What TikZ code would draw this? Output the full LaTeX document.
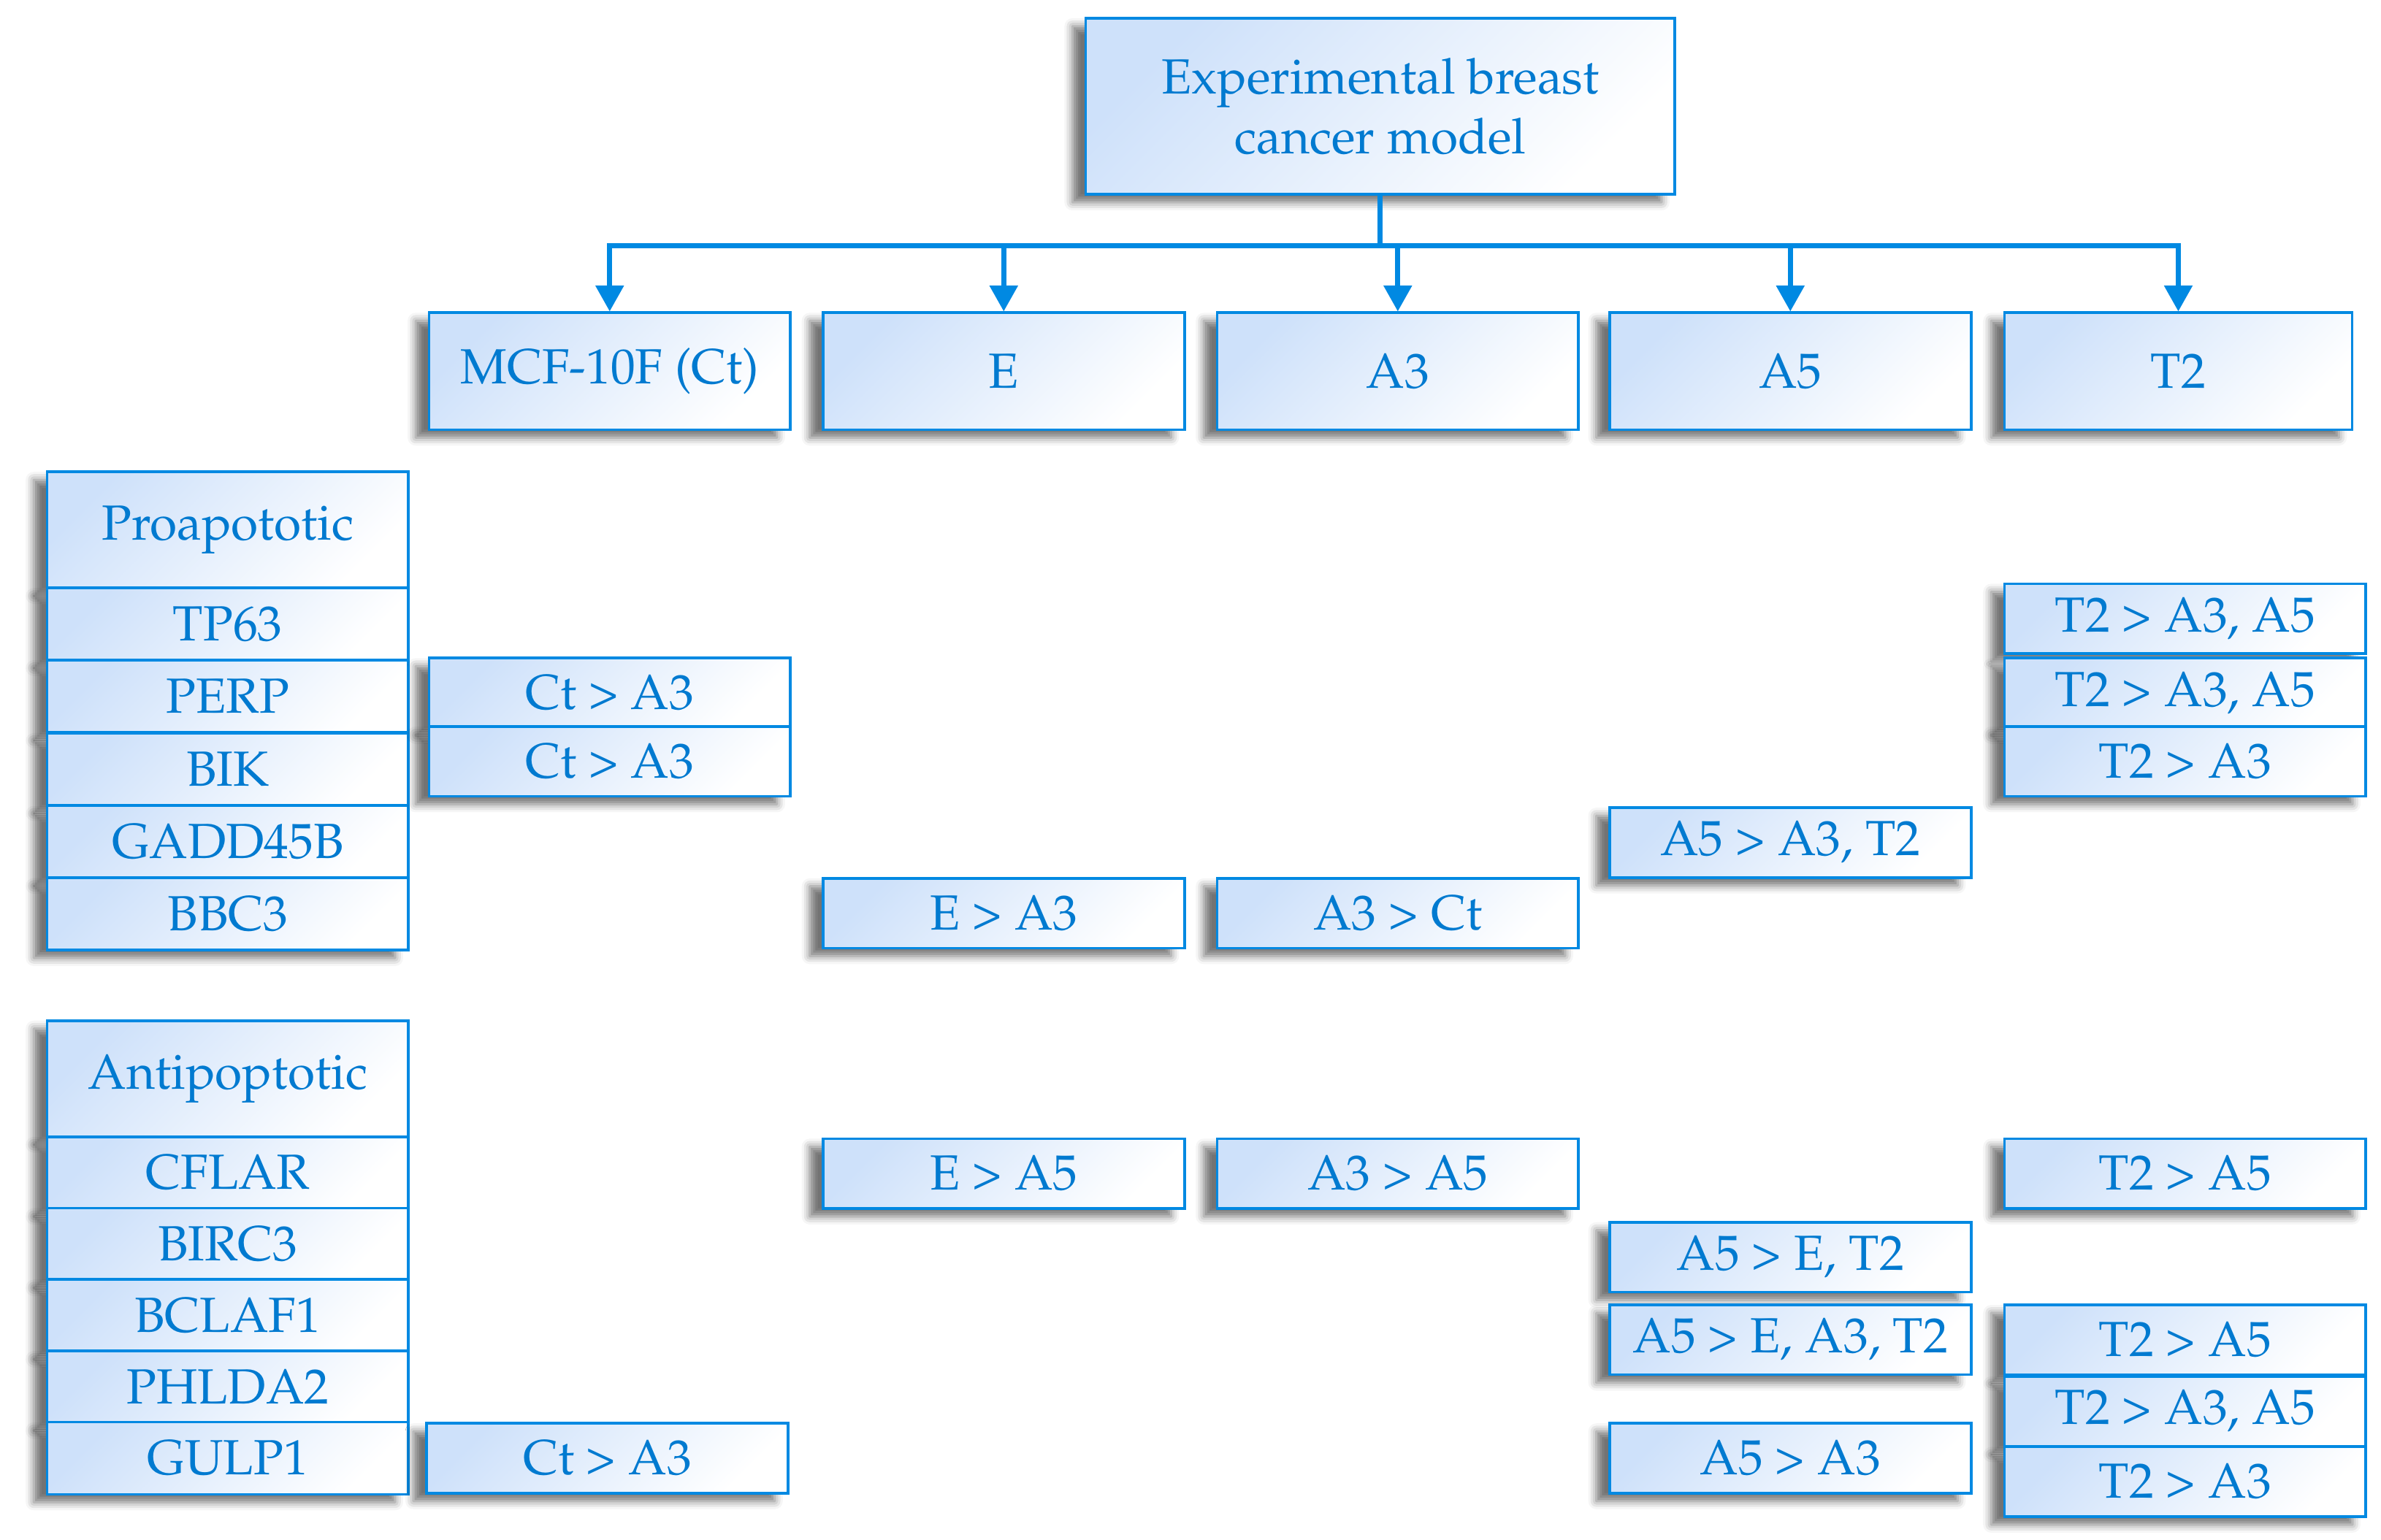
\documentclass[tikz,border=0pt]{standalone}
\usepackage[T1]{fontenc}
\usepackage{mathpazo}
\usepackage{xcolor}
\usepackage{tikz}
\usetikzlibrary{arrows.meta,positioning,shadows.blur}

\definecolor{lineblue}{RGB}{0,137,226}
\definecolor{textblue}{RGB}{0,122,208}
\definecolor{fillblue}{RGB}{206,225,250}

\begin{document}
\begin{tikzpicture}[
    cell/.style={rectangle, draw=lineblue, line width=1pt, top color=fillblue, bottom color=white, shading angle=45, text=textblue, font=\fontsize{18.5}{22.5}\selectfont, align=center, inner sep=0pt, minimum width=4.76cm, blur shadow={shadow xshift=-5pt, shadow yshift=-3pt, shadow opacity=55, shadow blur radius=3pt}},
    model/.style={cell, minimum width=7.76cm, minimum height=2.32cm},
    group/.style={cell, minimum height=1.54cm},
    head/.style={cell, minimum height=1.53cm},
    gene/.style={cell, minimum height=0.95cm},
    cmp/.style={cell, minimum height=0.92cm},
    link/.style={draw=lineblue, line width=1.9pt},
    arr/.style={link, -{Triangle[width=0.36cm,length=0.34cm]}}
]
\useasboundingbox (0,0) rectangle (31.36,-20.28);

% Model and groups
\node[model] (model) at (18.18,-1.40) {Experimental breast\\cancer model};
\node[group] (ct) at (8.03,-4.89) {MCF-10F (Ct)};
\node[group] (e) at (13.22,-4.89) {E};
\node[group] (a3) at (18.41,-4.89) {A3};
\node[group] (a5) at (23.58,-4.89) {A5};
\node[group, minimum width=4.58cm] (t2) at (28.69,-4.89) {T2};

% Proapoptotic genes
\node[head] (pro) at (3.0,-6.98) {Proapototic};
\node[gene] (tp63) at (3.0,-8.22) {TP63};
\node[gene] (perp) at (3.0,-9.17) {PERP};
\node[gene] (bik) at (3.0,-10.13) {BIK};
\node[gene] (gadd) at (3.0,-11.09) {GADD45B};
\node[gene] (bbc3) at (3.0,-12.04) {BBC3};

% Antiapoptotic genes
\node[head] (anti) at (3.0,-14.21) {Antipoptotic};
\node[gene] (cflar) at (3.0,-15.45) {CFLAR};
\node[gene] (birc3) at (3.0,-16.39) {BIRC3};
\node[gene] (bclaf1) at (3.0,-17.33) {BCLAF1};
\node[gene] (phlda2) at (3.0,-18.27) {PHLDA2};
\node[gene] (gulp1) at (3.0,-19.21) {GULP1};

% Comparisons, proapoptotic
\node[cmp] (perp-ct) at (8.03,-9.13) {Ct > A3};
\node[cmp] (bik-ct) at (8.03,-10.03) {Ct > A3};
\node[cmp] (tp63-t2) at (28.78,-8.15) {T2 > A3, A5};
\node[cmp] (perp-t2) at (28.78,-9.13) {T2 > A3, A5};
\node[cmp] (bik-t2) at (28.78,-10.03) {T2 > A3};
\node[cmp] (gadd-a5) at (23.58,-11.10) {A5 > A3, T2};
\node[cmp] (bbc3-e) at (13.22,-12.03) {E > A3};
\node[cmp] (bbc3-a3) at (18.41,-12.03) {A3 > Ct};

% Comparisons, antiapoptotic
\node[cmp] (cflar-e) at (13.22,-15.46) {E > A5};
\node[cmp] (cflar-a3) at (18.41,-15.46) {A3 > A5};
\node[cmp] (cflar-t2) at (28.78,-15.46) {T2 > A5};
\node[cmp] (birc3-a5) at (23.58,-16.56) {A5 > E, T2};
\node[cmp] (bclaf1-a5) at (23.58,-17.65) {A5 > E, A3, T2};
\node[cmp] (bclaf1-t2) at (28.78,-17.65) {T2 > A5};
\node[cmp] (phlda2-t2) at (28.78,-18.59) {T2 > A3, A5};
\node[cmp] (gulp1-t2) at (28.78,-19.52) {T2 > A3};
\node[cmp] (gulp1-a5) at (23.58,-19.21) {A5 > A3};
\node[cmp] (gulp1-ct) at (8.0,-19.21) {Ct > A3};

% Arrows
\coordinate (split) at (18.18,-3.24);
\draw[link] (model) -- (split);
\draw[arr] (split) -| (ct);
\draw[arr] (split) -| (e);
\draw[arr] (split) -| (a3);
\draw[arr] (split) -| (a5);
\draw[arr] (split) -| (t2);

\end{tikzpicture}
\end{document}
